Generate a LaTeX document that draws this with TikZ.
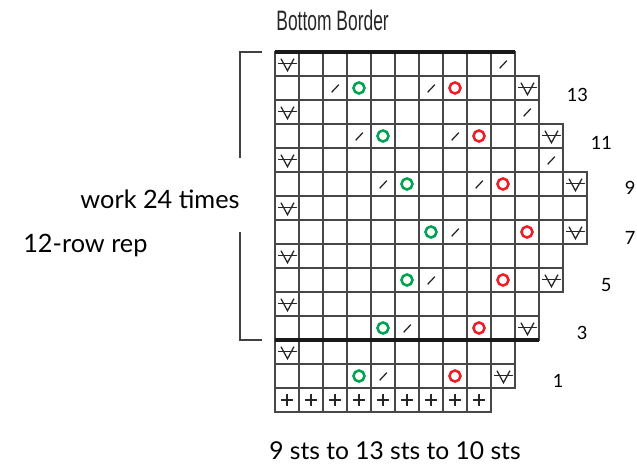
\documentclass[tikz,border=0pt]{standalone}
\usepackage{fontspec}
\setmainfont{Lato}
\newfontfamily\condfont[FakeStretch=0.62]{Liberation Sans}
\usepackage{xcolor}
\usepackage{tikz}
\usetikzlibrary{positioning, calc}

\definecolor{stgreen}{RGB}{0,163,80}
\definecolor{stred}{RGB}{236,30,40}
\tikzset{
  gridline/.style={draw=black!72, line width=1pt},
  heavyline/.style={draw=black!90, line width=2.2pt},
  symb/.style={draw=black!85, line width=0.9pt},
  eyelet/.style={line width=1.8pt},
  rownum/.style={font=\fontsize{13}{15}\selectfont},
  sidelabel/.style={font=\fontsize{18}{21}\selectfont}
}

\begin{document}
\begin{tikzpicture}[x=0.6cm, y=-0.6cm]
  \useasboundingbox (-11.4583,-2.1667) rectangle (15.0833,17.1667);
  % Grid: row counted from top / stitches in row
  \foreach \r/\w in {0/10, 1/11, 2/11, 3/12, 4/12, 5/13, 6/13, 7/13, 8/12, 9/12, 10/11, 11/11, 12/10, 13/10, 14/9} {
    \foreach \c in {1,...,\w}
      \draw[gridline] (\c-1,\r) rectangle (\c,\r+1);
  }
  % Repeat borders
  \draw[heavyline] (0,0) -- (10,0);
  \draw[heavyline] (0,12) -- (11,12);
  % Slipped stitches
  \foreach \c/\r in {0/0, 0/2, 0/4, 0/6, 0/8, 0/10, 0/12, 10/1, 11/3, 12/5, 12/7, 11/9, 10/11, 9/13} {
    \draw[symb] (\c+0.25,\r+0.28) -- (\c+0.52,\r+0.78) -- (\c+0.79,\r+0.28);
    \draw[symb] (\c+0.12,\r+0.47) -- (\c+0.9,\r+0.47);
  }
  % Decreases
  \foreach \c/\r in {2/1, 6/1, 9/0, 10/2, 3/3, 7/3, 11/4, 4/5, 8/5, 7/7, 6/9, 5/11, 4/13} {
    \draw[symb] (\c+0.36,\r+0.68) -- (\c+0.66,\r+0.36);
  }
  % Yarn overs
  \foreach \c/\r in {3/1, 4/3, 5/5, 6/7, 5/9, 4/11, 3/13}
    \draw[eyelet, stgreen] (\c+0.5,\r+0.5) circle (0.23);
  \foreach \c/\r in {7/1, 8/3, 9/5, 10/7, 9/9, 8/11, 7/13}
    \draw[eyelet, stred] (\c+0.5,\r+0.5) circle (0.23);
  % Cast-on row
  \foreach \c in {0,...,8} {
    \draw[symb] (\c+0.24,14.5) -- (\c+0.76,14.5);
    \draw[symb] (\c+0.5,14.24) -- (\c+0.5,14.76);
  }
  % Row numbers
  \foreach \n/\x/\y in {13/12.6/1.8, 11/13.6/3.8, 9/14.8/5.65, 7/14.8/7.75, 5/13.8/9.7, 3/12.8/11.7, 1/11.8/13.7}
    \node[rownum] (row\n) at (\x,\y) {\n};
  % Bracket
  \coordinate (brtop) at (-0.54,0);
  \coordinate (brbot) at (-0.54,12);
  \draw[draw=black!75, line width=1pt] (brtop) -| (-1.46,4.42);
  \draw[draw=black!75, line width=1pt] (-1.46,7.5) |- (brbot);
  % Labels
  \node[font=\condfont\fontsize{20}{23}\selectfont, text=black!85] (title) at (2.4,-1.3) {Bottom Border};
  \node[sidelabel] (times) at (-4.79,6.15) {work 24 times};
  \node[sidelabel] (rep) at (-7.9,8.05) {12-row rep};
  \node[font=\fontsize{17.5}{21}\selectfont] (count) at (5.0,16.6) {9 sts to 13 sts to 10 sts};
\end{tikzpicture}
\end{document}
